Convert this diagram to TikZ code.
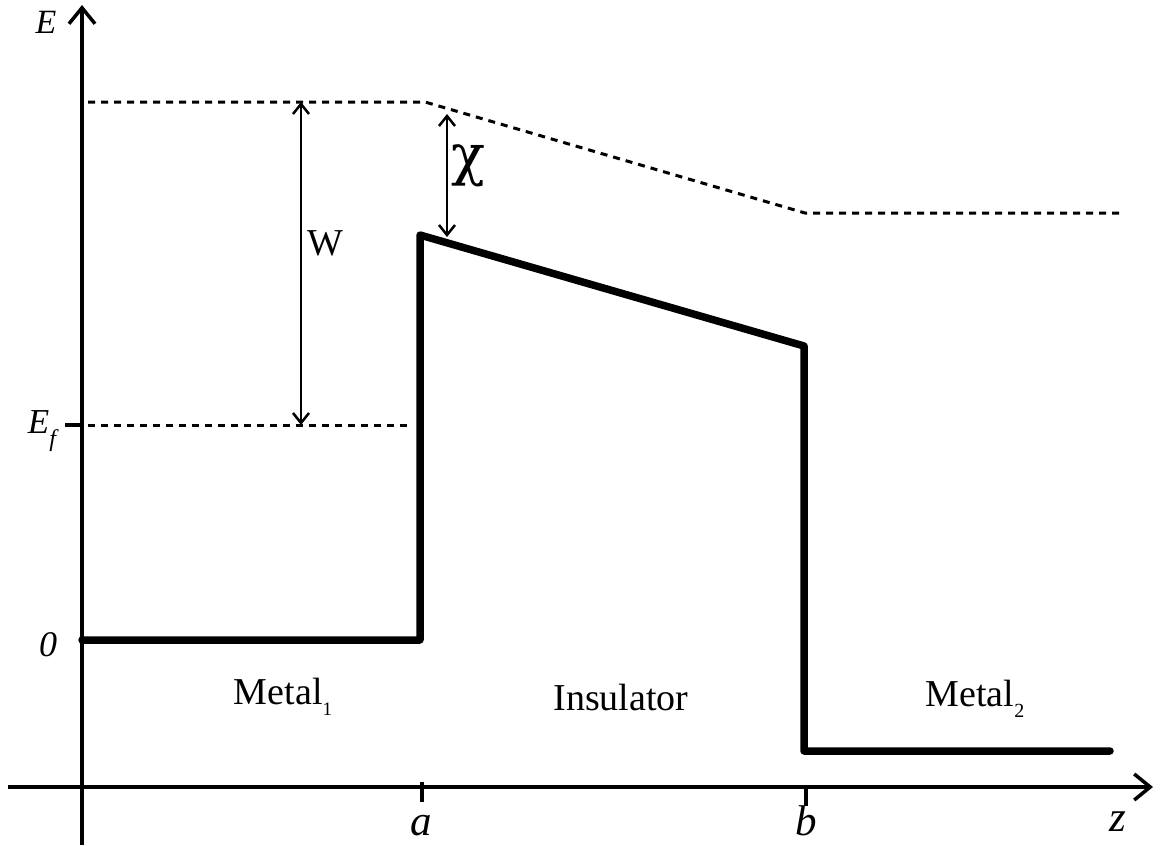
\documentclass[tikz,border=0pt]{standalone}
\usepackage{fontspec}
\setmainfont{Liberation Serif}
\newfontfamily\chifont{DejaVu Serif}
\usetikzlibrary{arrows.meta}
\begin{document}
\begin{tikzpicture}[x=1pt,y=-1pt,
  axis/.style={line width=3.5pt, -{Straight Barb[length=16pt,width=26pt]}},
  band/.style={line width=7.5pt, line join=round, line cap=round},
  level/.style={line width=3pt, dash pattern=on 7pt off 6pt},
  gap/.style={line width=2.5pt, {Straight Barb[length=10pt,width=16pt]}-{Straight Barb[length=10pt,width=16pt]}},
  tick/.style={line width=3.5pt},
  lbl/.style={font=\fontsize{38}{40}\selectfont, inner sep=0pt},
  ilbl/.style={font=\fontsize{43}{46}\selectfont\itshape, inner sep=0pt},
]
\useasboundingbox (0,0) rectangle (1160,846);
% coordinates
\coordinate (ybot) at (82,845);
\coordinate (ytop) at (82,5);
\coordinate (xl) at (8,787);
\coordinate (xr) at (1153,787);
\coordinate (vac0) at (88,102);
\coordinate (vac1) at (425,102);
\coordinate (vac2) at (805,213);
\coordinate (vac3) at (1122,213);
\coordinate (ef0) at (88,425);
\coordinate (ef1) at (412,425);
\coordinate (m1l) at (82,640);
\coordinate (m1r) at (420,640);
\coordinate (ia) at (420,235);
\coordinate (ib) at (804,346);
\coordinate (m2l) at (804,751);
\coordinate (m2r) at (1110,751);
\coordinate (wt) at (301,102);
\coordinate (wb) at (301,425);
\coordinate (ct) at (447,114);
\coordinate (cb) at (447,237);
% axes
\draw[axis] (ybot) -- (ytop);
\draw[axis] (xl) -- (xr);
% ticks
\draw[line width=4pt] (65,425) -- (ef0-|ybot);
\draw[tick] (422,782) -- (422,802);
\draw[tick] (806,787) -- (806,806);
% levels
\draw[level] (vac0) -- (vac1) -- (vac2) -- (vac3);
\draw[level] (ef0) -- (ef1);
% band
\draw[band] (m1l) -- (m1r) -- (ia) -- (ib) -- (m2l) -- (m2r);
% gaps
\draw[gap] (wt) -- (wb);
\draw[gap] (ct) -- (cb);
% labels
\node[ilbl, font=\fontsize{34}{36}\selectfont\itshape] (lE) at (46,22) {E};
\node[ilbl, font=\fontsize{35}{36}\selectfont\itshape] (lEf) at (42,431) {E\raisebox{-0.35em}{\fontsize{24}{24}\selectfont f}};
\node[ilbl, font=\fontsize{36}{36}\selectfont\itshape] (l0) at (48,645) {0};
\node[ilbl] (la) at (421,826) {a};
\node[ilbl] (lb) at (806,821) {b};
\node[ilbl] (lz) at (1118,822) {z};
\node[lbl] (lW) at (325,243) {W};
\node[lbl, font=\fontsize{56}{58}\selectfont\chifont] (lchi) at (468,166) {χ};
\node[lbl] (lm1) at (283,697) {Metal\raisebox{-0.3em}{\fontsize{19}{20}\selectfont 1}};
\node[lbl] (lins) at (621,697) {Insulator};
\node[lbl] (lm2) at (975,699) {Metal\raisebox{-0.3em}{\fontsize{20}{20}\selectfont 2}};
\end{tikzpicture}
\end{document}
